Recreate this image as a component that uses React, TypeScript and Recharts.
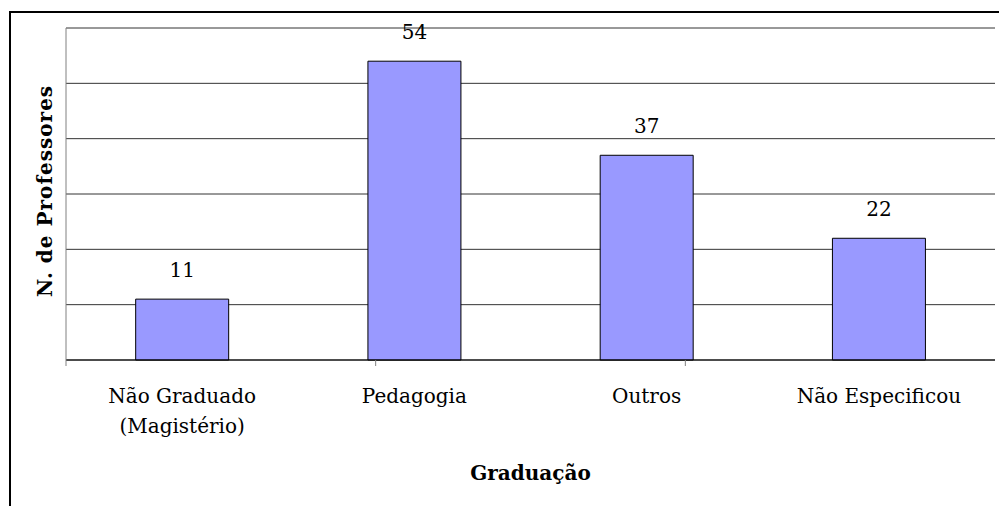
import React from 'react';
import { BarChart, Bar, XAxis, YAxis, CartesianGrid, LabelList } from 'recharts';

const categories = ['Não Graduado (Magistério)', 'Pedagogia', 'Outros', 'Não Especificou'];
const tickLines = [['Não Graduado', '(Magistério)'], ['Pedagogia'], ['Outros'], ['Não Especificou']];
const professores = [11, 54, 37, 22];
const yTicks = [0, 10, 20, 30, 40, 50, 60];
const edgeTicks = [0, 1, 2, 3, 4];

const data = categories.map((name, i) => ({ name, value: professores[i] }));

const FONT = '"DejaVu Serif", serif';

// draws nothing, but keeps the ticks (tick={false} drops grid lines and tick marks)
const NoTick = () => null;

const CategoryTick = (props: any) => {
  const { x, y, index } = props;
  const lines = tickLines[index] || [];
  return (
    <text x={x} y={y} textAnchor="middle" fill="#000" fontSize={20} fontFamily={FONT}>
      {lines.map((line, i) => (
        <tspan key={i} x={x} dy={i === 0 ? 42 : 30}>
          {line}
        </tspan>
      ))}
    </text>
  );
};

const YTitle = (props: any) => {
  const { viewBox } = props;
  const cx = viewBox.x + 45;
  const cy = viewBox.y + viewBox.height / 2 - 3;
  return (
    <text
      x={cx}
      y={cy}
      transform={`rotate(-90 ${cx} ${cy})`}
      textAnchor="middle"
      dominantBaseline="central"
      fill="#000"
      fontSize={20}
      fontWeight="bold"
      letterSpacing={1}
      fontFamily={FONT}
    >
      N. de Professores
    </text>
  );
};

export default function App() {
  return (
    <div style={{ position: 'absolute', left: 0, top: 0, width: 999, height: 506, background: '#fff' }}>
      <div
        style={{
          position: 'absolute',
          left: 9,
          top: 11,
          width: 990,
          height: 495,
          borderTop: '2px solid #000',
          borderLeft: '2px solid #000',
          boxSizing: 'border-box',
        }}
      />
      <BarChart
        width={999}
        height={506}
        data={data}
        margin={{ top: 28, right: 4, left: 0, bottom: 0 }}
        barCategoryGap="30%"
        style={{ position: 'absolute', left: 0, top: 0, fontFamily: FONT }}
      >
        <CartesianGrid xAxisId="b" vertical={false} stroke="#333" />
        <XAxis
          xAxisId="b"
          dataKey="name"
          height={145}
          tickSize={0}
          tickMargin={0}
          tickLine={false}
          axisLine={false}
          tick={<CategoryTick />}
          interval={0}
          label={{
            value: 'Graduação',
            position: 'insideBottom',
            offset: 26,
            fill: '#000',
            fontSize: 20,
            fontWeight: 'bold',
            fontFamily: FONT,
          }}
        />
        <XAxis
          xAxisId="a"
          type="number"
          domain={[0, 4]}
          ticks={edgeTicks}
          tick={<NoTick />}
          axisLine={{ stroke: '#000' }}
          tickLine={{ stroke: '#808080' }}
          tickSize={6}
          height={1}
        />
        <YAxis
          width={66}
          domain={[0, 60]}
          ticks={yTicks}
          tick={<NoTick />}
          tickLine={false}
          axisLine={{ stroke: '#808080' }}
          label={<YTitle />}
        />
        <YAxis
          yAxisId="right"
          orientation="right"
          width={0}
          domain={[0, 60]}
          tick={<NoTick />}
          tickLine={false}
          axisLine={{ stroke: '#808080' }}
        />
        <Bar xAxisId="b" dataKey="value" fill="#9999ff" stroke="#000" strokeWidth={1} isAnimationActive={false}>
          <LabelList dataKey="value" position="top" offset={22} fill="#000" fontSize={20} fontFamily={FONT} />
        </Bar>
      </BarChart>
    </div>
  );
}
